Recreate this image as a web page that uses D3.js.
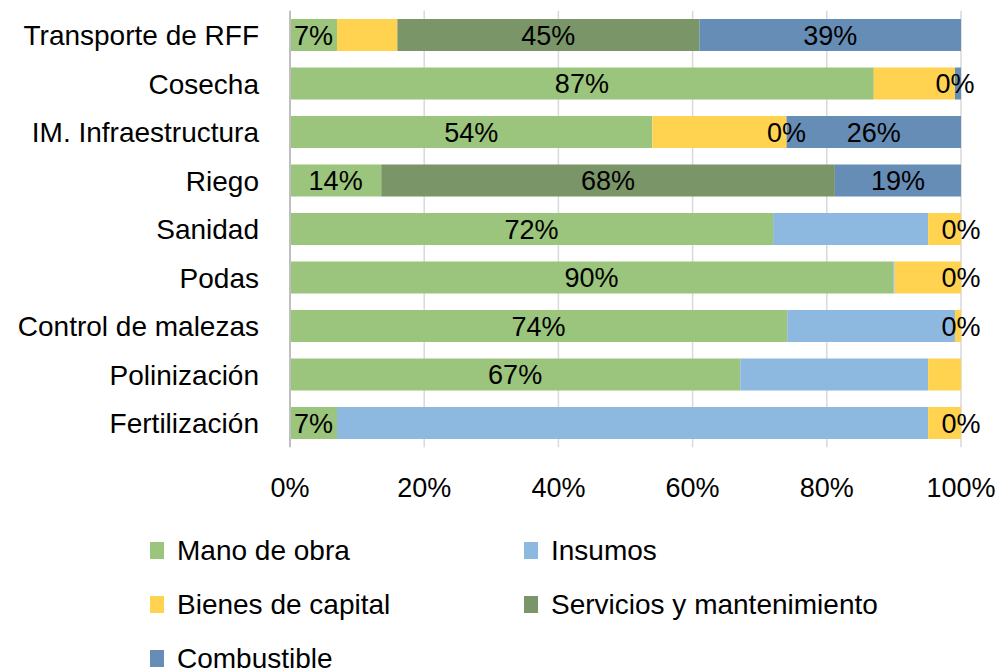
<!DOCTYPE html>
<html>
<head>
<meta charset="utf-8">
<script src="https://cdn.jsdelivr.net/npm/d3@7"></script>
<style>
  body { margin: 0; background: #fff; }
  text { font-family: "Liberation Sans", Arial, sans-serif; fill: #000; }
</style>
</head>
<body>
<div id="chart"></div>
<script>
// Categories, top to bottom
var categories = ["Transporte de RFF", "Cosecha", "IM. Infraestructura", "Riego", "Sanidad",
                  "Podas", "Control de malezas", "Polinización", "Fertilización"];

var seriesNames = ["Mano de obra", "Insumos", "Bienes de capital", "Servicios y mantenimiento", "Combustible"];

// Shares in %, per category (null = no segment / no label)
var manoDeObra    = [7, 87, 54, 13.6, 72, 89.9, 74.1, 67.1, 7];
var insumos       = [0, 0, 0, 0, 23.1, 0.2, 25, 28, 88.1];
var bienesCapital = [9, 12.1, 20, 0, 4.9, 9.9, 0.9, 4.9, 4.9];
var servicios     = [45, 0, 0, 67.6, 0, 0, 0, null, 0];
var combustible   = [39, 0.9, 26, 18.8, null, null, null, null, null];

var seriesValues = [manoDeObra, insumos, bienesCapital, servicios, combustible];
var colors = ["#9bc47c", "#8db8e0", "#ffd34f", "#7a9567", "#668db5"];

// which series carry data labels
var labelledSeries = ["Mano de obra", "Servicios y mantenimiento", "Combustible"];
var hiddenLabels = ["Cosecha|Combustible"];

var xTicks = [0, 20, 40, 60, 80, 100];

var W = 999, H = 669;
var plotLeft = 290, plotRight = 961, plotTop = 10.75, plotBottom = 447.25;

var svg = d3.select("#chart").append("svg")
    .attr("width", W)
    .attr("height", H);

var x = d3.scaleLinear().domain([0, 100]).range([plotLeft, plotRight]);
var y = d3.scaleBand().domain(categories).range([plotTop, plotBottom])
    .paddingInner(0.34).paddingOuter(0.17);

// gridlines
svg.append("g").selectAll("line")
    .data(xTicks.slice(1))
    .enter().append("line")
    .attr("x1", d => x(d)).attr("x2", d => x(d))
    .attr("y1", plotTop).attr("y2", plotBottom)
    .attr("stroke", "#d9d9d9").attr("stroke-width", 1.5);

// build stacked segments
var segments = [];
categories.forEach(function (cat, i) {
    var acc = 0;
    seriesNames.forEach(function (s, j) {
        var v = seriesValues[j][i];
        if (v === null) return;
        segments.push({ cat: cat, series: s, idx: j, x0: acc, x1: acc + v, value: v });
        acc += v;
    });
});

svg.append("g").selectAll("rect")
    .data(segments.filter(d => d.value > 0))
    .enter().append("rect")
    .attr("x", d => x(d.x0))
    .attr("y", d => y(d.cat))
    .attr("width", d => x(d.x1) - x(d.x0))
    .attr("height", y.bandwidth())
    .attr("fill", d => colors[d.idx]);

// axis line
svg.append("line")
    .attr("x1", x(0)).attr("x2", x(0))
    .attr("y1", plotTop).attr("y2", plotBottom)
    .attr("stroke", "#bfbfbf").attr("stroke-width", 2);

// data labels
svg.append("g").selectAll("text")
    .data(segments.filter(d => labelledSeries.indexOf(d.series) >= 0 &&
                               hiddenLabels.indexOf(d.cat + "|" + d.series) < 0))
    .enter().append("text")
    .attr("x", d => x((d.x0 + d.x1) / 2))
    .attr("y", d => y(d.cat) + y.bandwidth() / 2)
    .attr("dy", "0.36em")
    .attr("text-anchor", "middle")
    .style("font-size", "27px")
    .text(d => Math.round(d.value) + "%");

// category labels
svg.append("g").selectAll("text")
    .data(categories)
    .enter().append("text")
    .attr("x", 259)
    .attr("y", d => y(d) + y.bandwidth() / 2)
    .attr("dy", "0.36em")
    .attr("text-anchor", "end")
    .style("font-size", "28px")
    .text(d => d);

// x tick labels
svg.append("g").selectAll("text")
    .data(xTicks)
    .enter().append("text")
    .attr("x", d => x(d))
    .attr("y", 497)
    .attr("text-anchor", "middle")
    .style("font-size", "27px")
    .text(d => d + "%");

// legend
var legend = svg.append("g").selectAll("g")
    .data(seriesNames)
    .enter().append("g")
    .attr("transform", (d, i) => "translate(" + (i % 2 === 0 ? 150 : 524) + "," + (542 + Math.floor(i / 2) * 54) + ")");

legend.append("rect")
    .attr("width", 14).attr("height", 17)
    .attr("fill", (d, i) => colors[i]);

legend.append("text")
    .attr("x", 27)
    .attr("y", 18)
    .style("font-size", "28px")
    .text(d => d);
</script>
</body>
</html>
